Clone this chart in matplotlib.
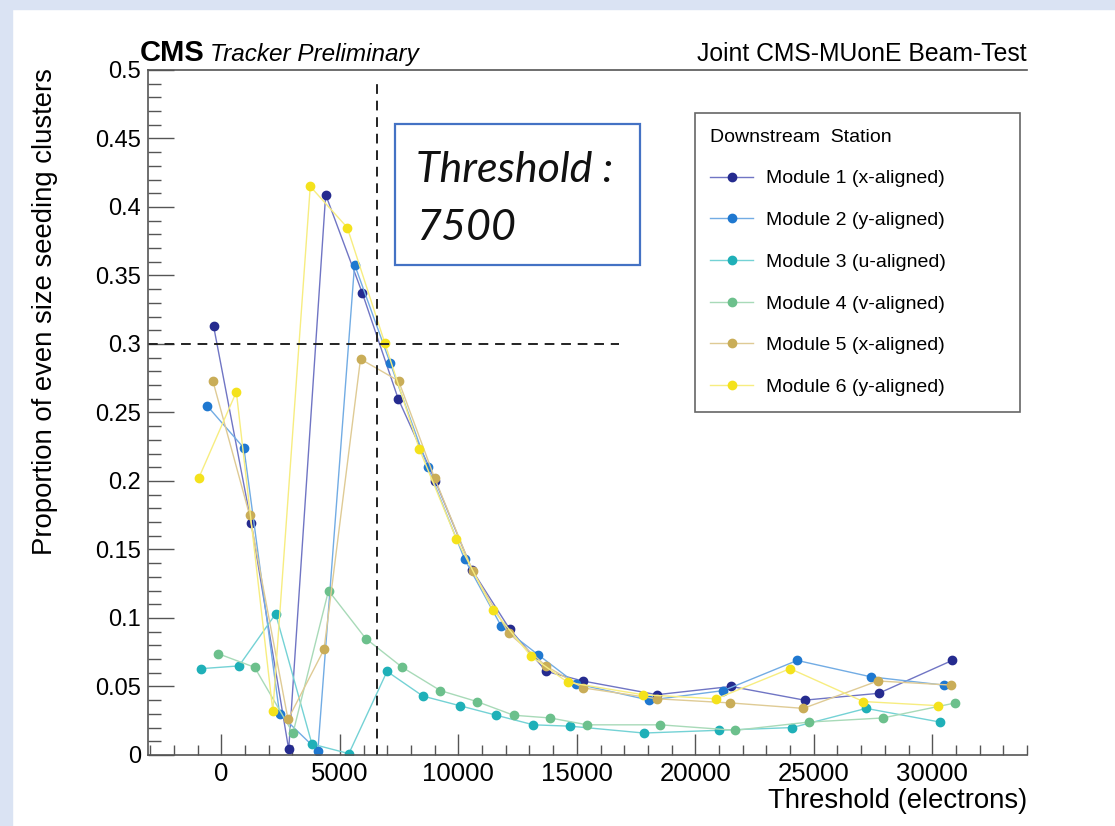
import matplotlib
matplotlib.use("Agg")
import matplotlib.pyplot as plt
from matplotlib.patches import Rectangle
from matplotlib.ticker import MultipleLocator, FuncFormatter

plt.rcParams['font.family'] = ['Liberation Sans', 'DejaVu Sans']

# threshold (electrons) and proportion of even size seeding clusters per module
x_m1 = [-330, 1260, 2840, 4400, 5950, 7460, 9030, 10580, 12160, 13710, 15250, 18380, 21510, 24610, 27740, 30840]
y_m1 = [0.313, 0.169, 0.004, 0.409, 0.337, 0.260, 0.200, 0.135, 0.092, 0.061, 0.054, 0.044, 0.050, 0.040, 0.045, 0.069]

x_m2 = [-610, 950, 2455, 4070, 5620, 7125, 8710, 10260, 11810, 13380, 14970, 18060, 21190, 24300, 27420, 30490]
y_m2 = [0.255, 0.224, 0.030, 0.003, 0.358, 0.286, 0.210, 0.143, 0.094, 0.073, 0.052, 0.040, 0.047, 0.069, 0.057, 0.051]

x_m3 = [-850, 740, 2290, 3820, 5380, 6990, 8500, 10050, 11600, 13170, 14730, 17830, 20980, 24090, 27210, 30330]
y_m3 = [0.063, 0.065, 0.103, 0.008, 0.001, 0.061, 0.043, 0.036, 0.029, 0.022, 0.021, 0.016, 0.018, 0.020, 0.034, 0.024]

x_m4 = [-150, 1400, 3020, 4520, 6090, 7630, 9240, 10780, 12330, 13880, 15440, 18530, 21680, 24780, 27910, 30980]
y_m4 = [0.074, 0.064, 0.016, 0.120, 0.085, 0.064, 0.047, 0.039, 0.029, 0.027, 0.022, 0.022, 0.018, 0.024, 0.027, 0.038]

x_m5 = [-360, 1190, 2810, 4330, 5870, 7480, 9000, 10610, 12120, 13700, 15250, 18380, 21470, 24560, 27700, 30800]
y_m5 = [0.273, 0.175, 0.026, 0.077, 0.289, 0.273, 0.202, 0.134, 0.089, 0.065, 0.049, 0.041, 0.038, 0.034, 0.054, 0.051]

x_m6 = [-960, 630, 2170, 3750, 5310, 6890, 8360, 9910, 11460, 13075, 14620, 17780, 20880, 24000, 27090, 30230]
y_m6 = [0.202, 0.265, 0.032, 0.415, 0.385, 0.301, 0.223, 0.158, 0.106, 0.072, 0.053, 0.044, 0.041, 0.063, 0.039, 0.036]

labels = ["Module 1 (x-aligned)", "Module 2 (y-aligned)", "Module 3 (u-aligned)",
          "Module 4 (v-aligned)", "Module 5 (x-aligned)", "Module 6 (y-aligned)"]
colors = ["#252b8f", "#1f78d0", "#1fb0b8", "#6cc08c", "#c9ad58", "#f4e21c"]
line_colors = ["#7075c4", "#72ace4", "#74d2d5", "#a8dab8", "#dfcb95", "#f7ed80"]

xs = [x_m1, x_m2, x_m3, x_m4, x_m5, x_m6]
ys = [y_m1, y_m2, y_m3, y_m4, y_m5, y_m6]

fig = plt.figure(figsize=(11.15, 8.26), dpi=100)
fig.patches.append(Rectangle((0, 1 - 9 / 826), 1, 9 / 826, transform=fig.transFigure,
                             color="#dae3f3", zorder=0))
fig.patches.append(Rectangle((0, 0), 12 / 1115, 1, transform=fig.transFigure,
                             color="#dae3f3", zorder=0))

ax = fig.add_axes([0.1327, 0.0860, 0.7884, 0.8293])

for x, y, c, lc, lab in zip(xs, ys, colors, line_colors, labels):
    ax.plot(x, y, color=lc, lw=1.0, marker='o', ms=6, mfc=c, mec=c, label=lab)

ax.vlines(6560, 0, 0.494, colors='#222222', linestyles=(0, (5, 3.5)), lw=1.4)
ax.hlines(0.3, -3100, 16800, colors='#222222', linestyles=(0, (5, 3.5)), lw=1.4)

ax.set_xlim(-3100, 34000)
ax.set_ylim(0, 0.5)

ax.spines['right'].set_visible(False)
for s in ['left', 'bottom', 'top']:
    ax.spines[s].set_color('#555555')
    ax.spines[s].set_linewidth(1.2)

ax.xaxis.set_major_locator(MultipleLocator(5000))
ax.xaxis.set_minor_locator(MultipleLocator(1000))
ax.yaxis.set_major_locator(MultipleLocator(0.05))
ax.yaxis.set_minor_locator(MultipleLocator(0.01))
ax.yaxis.set_major_formatter(FuncFormatter(lambda v, p: f"{v:g}"))
ax.tick_params(axis='x', which='major', direction='in', length=15, width=1, color='#555555',
               labelsize=18.5, pad=5)
ax.tick_params(axis='x', which='minor', direction='in', length=7, width=1, color='#555555')
ax.tick_params(axis='y', which='major', direction='in', length=19, width=1, color='#555555',
               labelsize=17, pad=5)
ax.tick_params(axis='y', which='minor', direction='in', length=9, width=1, color='#555555')

leg = ax.legend(loc='upper left', bbox_to_anchor=(0.622, 0.501, 0.370, 0.436), mode='expand',
                title="Downstream  Station",
                fontsize=14, title_fontsize=14, alignment='left', frameon=True,
                fancybox=False, edgecolor='#666666', framealpha=1, handlelength=2.2,
                handletextpad=0.65, labelspacing=1.24, borderpad=0.8, borderaxespad=0)
leg.get_frame().set_linewidth(1.2)

ax.add_patch(Rectangle((0.281, 0.715), 0.279, 0.206, transform=ax.transAxes, fill=False,
                       edgecolor='#4472c4', lw=1.6, zorder=5))
ax.text(0.305, 0.837, "Threshold :", transform=ax.transAxes, fontsize=31, style='italic',
        family='Lato', va='baseline', ha='left', color='#111111')
ax.text(0.305, 0.752, "7500", transform=ax.transAxes, fontsize=31, style='italic',
        family='Lato', va='baseline', ha='left', color='#111111')

fig.text(140 / 1115, 1 - 61 / 826, "CMS", fontsize=21, weight='bold', ha='left', va='baseline')
fig.text(210 / 1115, 1 - 61 / 826, "Tracker Preliminary", fontsize=17.5, style='italic',
         ha='left', va='baseline')
fig.text(1027 / 1115, 1 - 61 / 826, "Joint CMS-MUonE Beam-Test", fontsize=17.8,
         ha='right', va='baseline')

fig.text(0.0405, 1 - 68 / 826, "Proportion of even size seeding clusters", fontsize=19.8,
         rotation=90, ha='center', va='top')
fig.text(1027 / 1115, 1 - 801 / 826, "Threshold (electrons)", fontsize=19.8,
         ha='right', va='center')

fig.savefig("out.png", dpi=100)
